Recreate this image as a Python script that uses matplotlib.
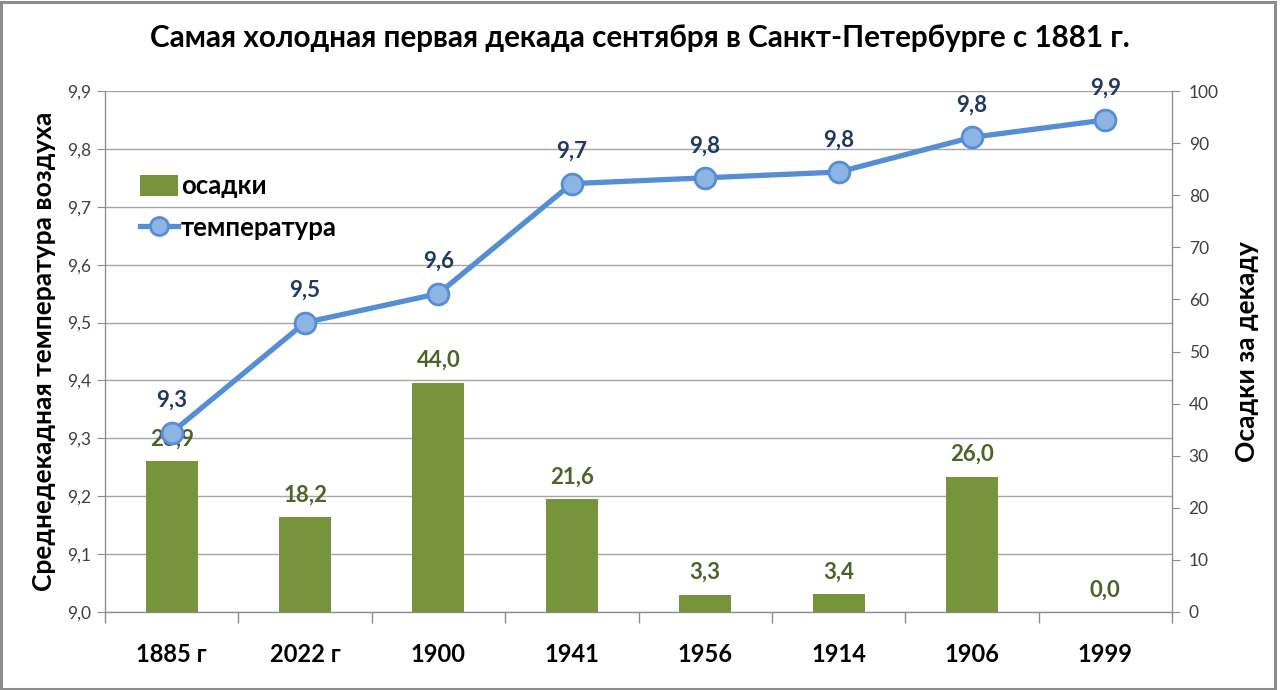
import matplotlib.pyplot as plt
import numpy as np
from decimal import Decimal, ROUND_HALF_UP
from matplotlib.patches import Patch, Rectangle
from matplotlib.lines import Line2D

plt.rcParams['font.family'] = ['Lato', 'DejaVu Sans']

# data
years = ['1885 г', '2022 г', '1900', '1941', '1956', '1914', '1906', '1999']
temperature = [9.31, 9.50, 9.55, 9.74, 9.75, 9.76, 9.82, 9.85]
precip = [28.9, 18.2, 44.0, 21.6, 3.3, 3.4, 26.0, 0.0]
temp_ticks = [9.0, 9.1, 9.2, 9.3, 9.4, 9.5, 9.6, 9.7, 9.8, 9.9]
precip_ticks = [0, 10, 20, 30, 40, 50, 60, 70, 80, 90, 100]

bar_color = '#77933C'
line_color = '#558ED5'
marker_face = '#8EB4E3'
temp_lbl_color = '#1F3A60'
bar_lbl_color = '#4F6228'
axis_gray = '#8C8C8C'


def fmt1(v):
    d = Decimal(str(v)).quantize(Decimal('0.1'), rounding=ROUND_HALF_UP)
    return str(d).replace('.', ',')


x = np.arange(len(years))

fig = plt.figure(figsize=(12.8, 6.9), dpi=100)
fig.patches.append(Rectangle((0.001, 0.002), 0.995, 0.995, transform=fig.transFigure,
                             fill=False, edgecolor='#8C8C8C', linewidth=2.2))

rect = [105 / 1280, 78 / 690, 1067 / 1280, 521 / 690]
ax = fig.add_axes(rect)           # temperature scale + grid
ax_bar = ax.twinx()               # precipitation bars, right axis
ax_line = ax.twinx()              # temperature line on top

ax.set_ylim(9.0, 9.9)
ax.set_yticks(temp_ticks)
ax.set_yticklabels([f'{t:.1f}'.replace('.', ',') for t in temp_ticks])
ax.grid(axis='y', color='#A6A6A6', linewidth=1)
ax.set_axisbelow(True)
ax.set_xlim(-0.5, len(years) - 0.5)

# x ticks between categories, labels at centers
ax.set_xticks(np.arange(-0.5, len(years)), minor=False)
ax.set_xticklabels([])
ax.set_xticks(x, minor=True)
ax.set_xticklabels(years, minor=True, fontsize=17, fontweight='bold')
ax.tick_params(axis='x', which='major', length=8, color=axis_gray, width=1)
ax.tick_params(axis='x', which='minor', length=0, pad=22)
ax.tick_params(axis='y', length=6, color=axis_gray, labelsize=12.5,
               labelcolor='#404040', pad=4)

for a in (ax, ax_bar, ax_line):
    a.spines['top'].set_visible(False)
    for s in ('left', 'right', 'bottom'):
        a.spines[s].set_color(axis_gray)

ax_bar.bar(x, precip, width=0.39, color=bar_color, zorder=2)
ax_bar.set_ylim(0, 100)
ax_bar.set_yticks(precip_ticks)
ax_bar.tick_params(axis='y', length=6, color=axis_gray, labelsize=12.5,
                   labelcolor='#404040', pad=6)
for xi, p in zip(x, precip):
    ax_bar.annotate(fmt1(p), (xi, p), xytext=(0, 16), textcoords='offset points',
                    ha='center', va='center', fontsize=16, fontweight='bold',
                    color=bar_lbl_color)

ax_line.set_ylim(9.0, 9.9)
ax_line.set_yticks([])
ax_line.plot(x, temperature, color=line_color, linewidth=3.8, marker='o',
             markersize=15, markerfacecolor=marker_face, markeredgecolor=line_color,
             markeredgewidth=2, zorder=3)
for xi, t in zip(x, temperature):
    ax_line.annotate(fmt1(t), (xi, t), xytext=(0, 23), textcoords='offset points',
                     ha='center', va='center', fontsize=16, fontweight='bold',
                     color=temp_lbl_color)

ax.set_ylabel('Среднедекадная температура воздуха', fontsize=19, fontweight='bold',
              labelpad=8)
ax_bar.set_ylabel('Осадки за декаду', fontsize=19, fontweight='bold', labelpad=12)

handles = [Patch(facecolor=bar_color, edgecolor='none'),
           Line2D([0], [0], color=line_color, linewidth=3.8, marker='o', markersize=13,
                  markerfacecolor=marker_face, markeredgecolor=line_color,
                  markeredgewidth=2)]
ax_line.legend(handles, ['осадки', 'температура'], loc='upper left',
               bbox_to_anchor=(0.011, 0.885), frameon=False,
               handlelength=1.5, handleheight=0.9, handletextpad=0.1,
               labelspacing=0.7, prop={'weight': 'bold', 'size': 18.5})

fig.text(0.5, 1 - 38 / 690, 'Самая холодная первая декада сентября в Санкт-Петербурге с 1881 г.',
         ha='center', va='center', fontsize=21.3, fontweight='bold')

fig.savefig('out.png', dpi=100)
